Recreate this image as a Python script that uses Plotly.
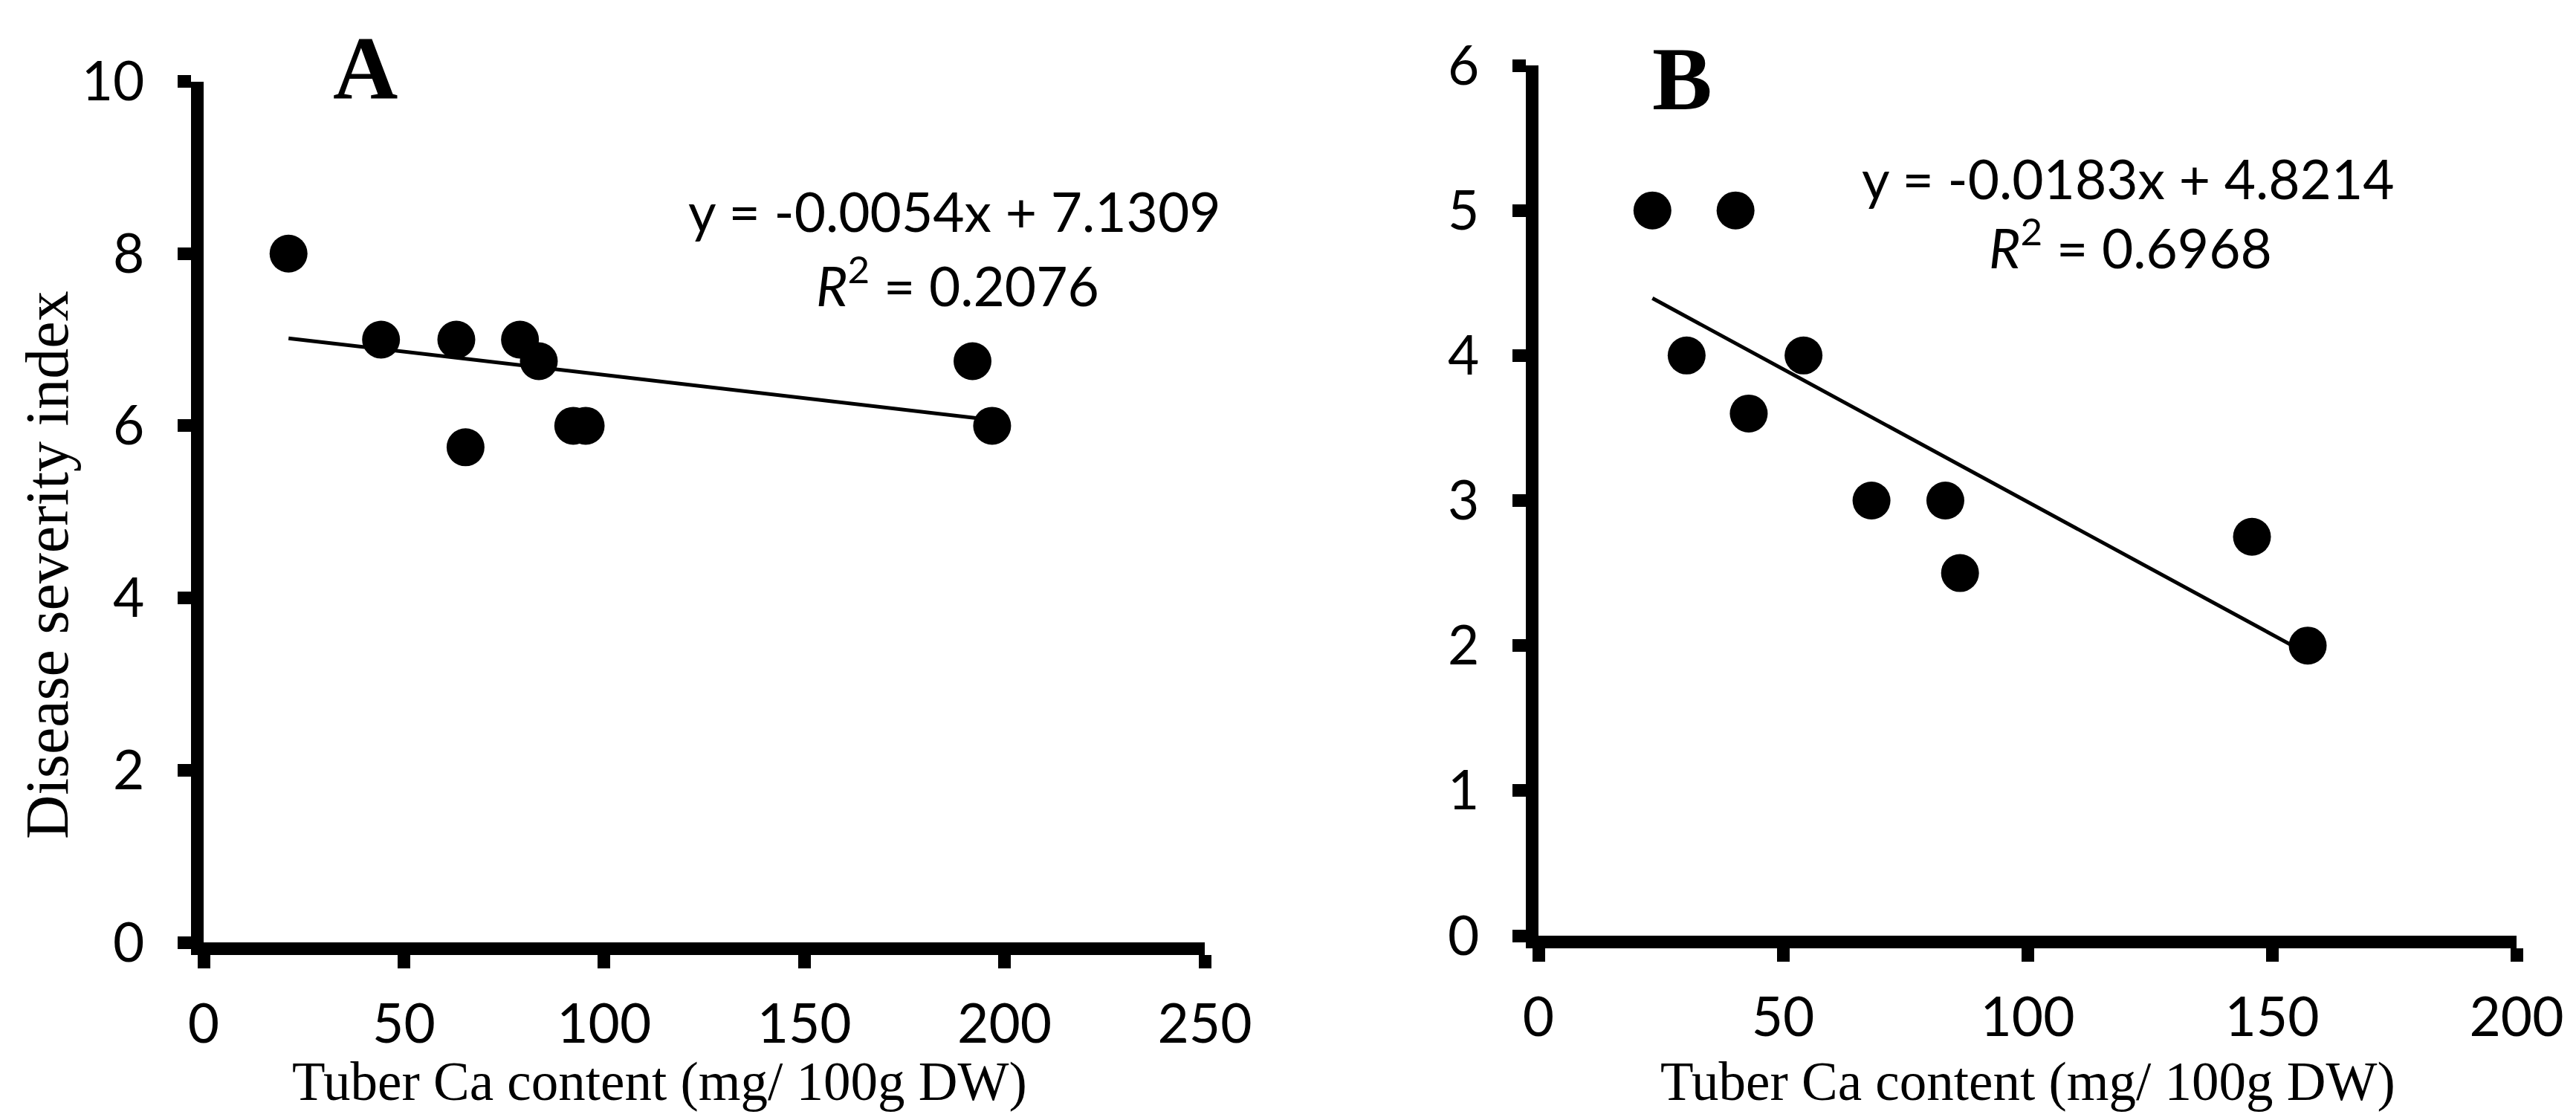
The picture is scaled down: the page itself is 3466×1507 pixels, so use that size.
import plotly.graph_objects as go

W, H = 3466, 1507

# panel A: tuber Ca vs disease severity
ca_a = [21.2, 44.3, 63.1, 65.4, 79.0, 83.7, 92.3, 95.4, 192.0, 196.9]
dsi_a = [8.0, 7.0, 7.0, 5.75, 7.0, 6.75, 6.0, 6.0, 6.75, 6.0]
slope_a, icpt_a, r2_a = -0.0054, 7.1309, 0.2076

# panel B
ca_b = [23.3, 40.3, 30.3, 54.2, 43.0, 68.1, 83.2, 86.2, 145.9, 157.3]
dsi_b = [5.0, 5.0, 4.0, 4.0, 3.6, 3.0, 3.0, 2.5, 2.75, 2.0]
slope_b, icpt_b, r2_b = -0.0183, 4.8214, 0.6968

x_ticks_a = [0, 50, 100, 150, 200, 250]
y_ticks_a = [0, 2, 4, 6, 8, 10]
x_ticks_b = [0, 50, 100, 150, 200]
y_ticks_b = [0, 1, 2, 3, 4, 5, 6]

x_title = "Tuber Ca content (mg/ 100g DW)"
y_title = "Disease severity index"

SANS = "Lato"
SERIF = "Liberation Serif"


def trend(xs, m, b):
    xe = [min(xs), max(xs)]
    return xe, [m * v + b for v in xe]


def eq_text(m, b):
    sign = "+" if b >= 0 else "-"
    return f"y = {m:.4f}x {sign} {abs(b):.4f}"


fig = go.Figure()
fig.add_trace(go.Scatter(x=ca_a, y=dsi_a, mode="markers",
                         marker=dict(size=51, color="black"),
                         xaxis="x", yaxis="y"))
tx, ty = trend(ca_a, slope_a, icpt_a)
fig.add_trace(go.Scatter(x=tx, y=ty, mode="lines",
                         line=dict(color="black", width=5),
                         xaxis="x", yaxis="y"))
fig.add_trace(go.Scatter(x=ca_b, y=dsi_b, mode="markers",
                         marker=dict(size=51, color="black"),
                         xaxis="x2", yaxis="y2"))
tx, ty = trend(ca_b, slope_b, icpt_b)
fig.add_trace(go.Scatter(x=tx, y=ty, mode="lines",
                         line=dict(color="black", width=5),
                         xaxis="x2", yaxis="y2"))

ax = dict(showline=True, linewidth=17, linecolor="black",
          ticks="outside", tickwidth=17, ticklen=18, tickcolor="black",
          showgrid=False, zeroline=False, automargin=False,
          tickfont=dict(family=SANS, size=73, color="black"))
xax = dict(ax, ticklabelstandoff=12)
yax = dict(ax, ticklabelstandoff=30)


def px_x(p):
    return p / W


def px_y(p):
    return 1 - p / H


fig.update_layout(
    width=W, height=H,
    margin=dict(l=0, r=0, t=0, b=0),
    paper_bgcolor="white", plot_bgcolor="white",
    showlegend=False,
    xaxis=dict(xax, domain=[px_x(266), px_x(1613)], range=[0, 250],
               tickvals=x_ticks_a, anchor="y"),
    yaxis=dict(yax, domain=[px_y(1260), px_y(101.5)], range=[0, 10],
               tickvals=y_ticks_a, anchor="x"),
    xaxis2=dict(xax, domain=[px_x(2062), px_x(3378)], range=[0, 200],
                tickvals=x_ticks_b, anchor="y2"),
    yaxis2=dict(yax, domain=[px_y(1251), px_y(80)], range=[0, 6],
                tickvals=y_ticks_b, anchor="x2"),
)


def note(text, x, y, font, size, **kw):
    fig.add_annotation(text=text, x=px_x(x), y=px_y(y), xref="paper", yref="paper",
                       showarrow=False, xanchor="center", yanchor="middle",
                       font=dict(family=font, size=size, color="black"), **kw)


note("<b>A</b>", 483, 83, SERIF, 121)
note("<b>B</b>", 2255, 98, SERIF, 121)
note(eq_text(slope_a, icpt_a), 1276, 276, SANS, 73)
note(f"<i>R</i><sup>2</sup> = {r2_a:.4f}", 1280, 371, SANS, 73)
note(eq_text(slope_b, icpt_b), 2855, 232, SANS, 73)
note(f"<i>R</i><sup>2</sup> = {r2_b:.4f}", 2858, 320, SANS, 73)
note(x_title, 879, 1447, SERIF, 73)
note(x_title, 2720, 1447, SERIF, 73)
note(y_title, 55, 752, SERIF, 82, textangle=-90)

fig.write_html("out.html")
